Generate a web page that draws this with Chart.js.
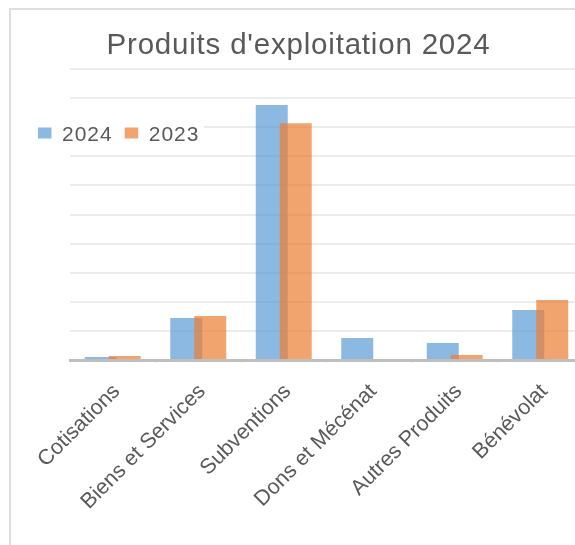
<!DOCTYPE html>
<html>
<head>
<meta charset="utf-8">
<script src="https://cdn.jsdelivr.net/npm/chart.js@4.4.1/dist/chart.umd.min.js"></script>
<style>
  html, body { margin: 0; padding: 0; background: #ffffff; overflow: hidden; width: 575px; height: 545px; }
  #frame { position: absolute; left: 9px; top: 8px; width: 700px; height: 700px; border: 2px solid #dedede; box-sizing: border-box; }
  #wrap { position: absolute; left: 0; top: 0; width: 600px; height: 545px; }
</style>
</head>
<body>
<div id="frame"></div>
<div id="wrap"><canvas id="c" width="600" height="545"></canvas></div>
<script>
const titleText = "Produits d'exploitation 2024";
const categories = ['Cotisations', 'Biens et Services', 'Subventions', 'Dons et Mécénat', 'Autres Produits', 'Bénévolat'];
const seriesLabels = ['2024', '2023'];
const values2024 = [0.10, 1.44, 8.76, 0.76, 0.58, 1.72];
const values2023 = [0.14, 1.51, 8.14, 0, 0.17, 2.06];
const yMin = 0;
const yMax = 10;
const yStep = 1;

const FONT = "'Liberation Sans', Arial, sans-serif";
const TEXT = '#595959';

const drawInOrder = {
  id: 'drawInOrder',
  beforeDatasetsDraw(chart) {
    const ctx = chart.ctx, a = chart.chartArea;
    ctx.save();
    ctx.beginPath();
    ctx.rect(a.left, a.top - 5, a.width, a.height + 5);
    ctx.clip();
    chart.getSortedVisibleDatasetMetas().forEach(m => m.controller.draw());
    ctx.restore();
    return false;
  }
};

const overlay = {
  id: 'overlay',
  afterDraw(chart) {
    const ctx = chart.ctx;
    ctx.save();
    // title
    ctx.fillStyle = TEXT;
    ctx.font = '29.5px ' + FONT;
    try { ctx.letterSpacing = '0.8px'; } catch (e) {}
    ctx.textAlign = 'center';
    ctx.textBaseline = 'alphabetic';
    ctx.fillText(titleText, 298.5, 53.5);
    // legend
    ctx.fillStyle = '#ffffff';
    ctx.fillRect(32, 117, 172, 30);
    ctx.font = '21px ' + FONT;
    try { ctx.letterSpacing = '1px'; } catch (e) {}
    ctx.textAlign = 'left';
    let x = 38;
    chart.data.datasets.forEach(ds => {
      ctx.fillStyle = ds.backgroundColor;
      ctx.fillRect(x, 127.5, 13.5, 11);
      ctx.fillStyle = TEXT;
      ctx.fillText(ds.label, x + 24, 140.5);
      x += 24 + ctx.measureText(ds.label).width + 12;
    });
    ctx.restore();
  }
};

new Chart(document.getElementById('c'), {
  type: 'bar',
  data: {
    labels: categories,
    datasets: [
      { label: seriesLabels[0], data: values2024, backgroundColor: 'rgba(91,155,213,0.7)', borderWidth: 0,
        categoryPercentage: 0.5614, barPercentage: 1.333 },
      { label: seriesLabels[1], data: values2023, backgroundColor: 'rgba(237,125,49,0.7)', borderWidth: 0,
        categoryPercentage: 0.5614, barPercentage: 1.333 }
    ]
  },
  options: {
    responsive: false,
    animation: false,
    devicePixelRatio: 1,
    layout: { padding: { left: 70, right: 17, top: 69, bottom: 0 } },
    plugins: {
      legend: { display: false },
      title: { display: false },
      tooltip: { enabled: false }
    },
    scales: {
      x: {
        offset: true,
        border: { display: true, color: '#bfbfbf', width: 3 },
        grid: { display: true, drawOnChartArea: false, offset: true, tickLength: 3, color: '#e8e8e8' },
        ticks: { color: TEXT, font: { family: FONT, size: 21.5 }, minRotation: 45, maxRotation: 45, autoSkip: false, padding: 16, labelOffset: 4 },
        afterFit: s => { s.height = 185; }
      },
      y: {
        min: yMin, max: yMax,
        border: { display: false },
        grid: { color: '#ececec', lineWidth: 2, drawTicks: false },
        ticks: { display: false, stepSize: yStep },
        afterFit: s => { s.width = 0; }
      }
    }
  },
  plugins: [drawInOrder, overlay]
});
</script>
</body>
</html>
